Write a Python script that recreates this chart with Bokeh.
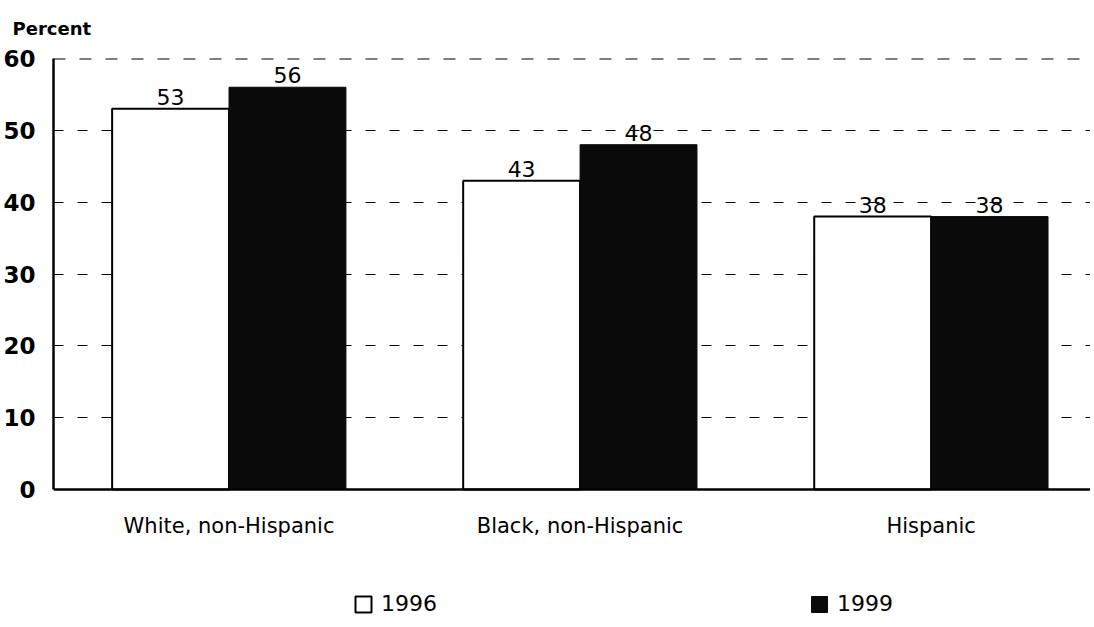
from bokeh.plotting import figure
from bokeh.models import ColumnDataSource, Legend, LegendItem, FixedTicker, Span
from bokeh.transform import dodge
from bokeh.core.properties import value
from bokeh.embed import file_html
from bokeh.resources import INLINE

categories = ["White, non-Hispanic", "Black, non-Hispanic", "Hispanic"]
years = ["1996", "1999"]
values_1996 = [53, 43, 38]
values_1999 = [56, 48, 38]
y_ticks = [0, 10, 20, 30, 40, 50, 60]

FONT = "DejaVu Sans"
bw = 0.333
xs = list(range(len(categories)))

src96 = ColumnDataSource(dict(x=xs, top=values_1996, label=[str(v) for v in values_1996]))
src99 = ColumnDataSource(dict(x=xs, top=values_1999, label=[str(v) for v in values_1999]))
cat_src = ColumnDataSource(dict(x=xs, label=categories))

p = figure(width=1090, height=622, x_range=(-0.5, 2.454), y_range=(-18.5, 60),
           output_backend="svg", toolbar_location=None,
           min_border_left=53, min_border_right=0, min_border_top=58, min_border_bottom=0)
p.outline_line_color = None
p.background_fill_color = "white"

r96 = p.vbar(x=dodge("x", -bw / 2, range=p.x_range), top="top", width=bw, source=src96,
             fill_color="white", line_color="black", line_width=2)
r99 = p.vbar(x=dodge("x", bw / 2, range=p.x_range), top="top", width=bw, source=src99,
             fill_color="#0a0a0a", line_color="#0a0a0a", line_width=1)

for src, off in ((src96, -bw / 2), (src99, bw / 2)):
    p.text(x=dodge("x", off, range=p.x_range), y="top", text="label", source=src,
           text_align="center", text_baseline="bottom", y_offset=-4,
           text_font=value(FONT), text_font_size="22px", text_color="black")

# category labels under the baseline
p.text(x="x", y=0, text="label", source=cat_src, text_align="center",
       text_baseline="middle", y_offset=36,
       text_font=value(FONT), text_font_size="21px", text_color="black")

# y axis
p.yaxis.ticker = FixedTicker(ticks=y_ticks)
p.yaxis.bounds = (y_ticks[0], y_ticks[-1])
p.yaxis.major_tick_line_color = None
p.yaxis.minor_tick_line_color = None
p.yaxis.axis_line_width = 2.5
p.yaxis.axis_line_color = "black"
p.yaxis.major_label_text_font = FONT
p.yaxis.major_label_text_font_size = "23px"
p.yaxis.major_label_text_font_style = "bold"
p.yaxis.major_label_text_color = "black"
p.yaxis.major_label_standoff = 12

# x axis: baseline drawn at zero
p.xaxis.visible = False
p.add_layout(Span(location=y_ticks[0], dimension="width", line_color="black", line_width=2.5))

p.xgrid.grid_line_color = None
p.ygrid.ticker = FixedTicker(ticks=y_ticks[1:])
p.ygrid.grid_line_color = "black"
p.ygrid.grid_line_width = 1
p.ygrid.grid_line_dash = "10 14"
p.add_layout(Span(location=y_ticks[-1], dimension="width", line_color="black",
                  line_width=2, line_dash="12 14", level="underlay"))

p.title.text = "Percent"
p.title.align = "left"
p.title.vertical_align = "top"
p.title.offset = -41
p.title.text_font = FONT
p.title.text_font_size = "18px"
p.title.text_font_style = "bold"
p.title.text_color = "black"
p.title.standoff = 35

legend = Legend(items=[LegendItem(label=years[0], renderers=[r96]),
                       LegendItem(label=years[1], renderers=[r99])],
                orientation="horizontal", location=(300, 6), spacing=372,
                padding=0, margin=0, border_line_color=None, background_fill_alpha=0,
                glyph_width=20, glyph_height=20, label_standoff=8,
                label_text_font=FONT, label_text_font_size="22px", label_text_color="black")
p.add_layout(legend, "center")

open("out.html", "w").write(file_html(p, INLINE))
